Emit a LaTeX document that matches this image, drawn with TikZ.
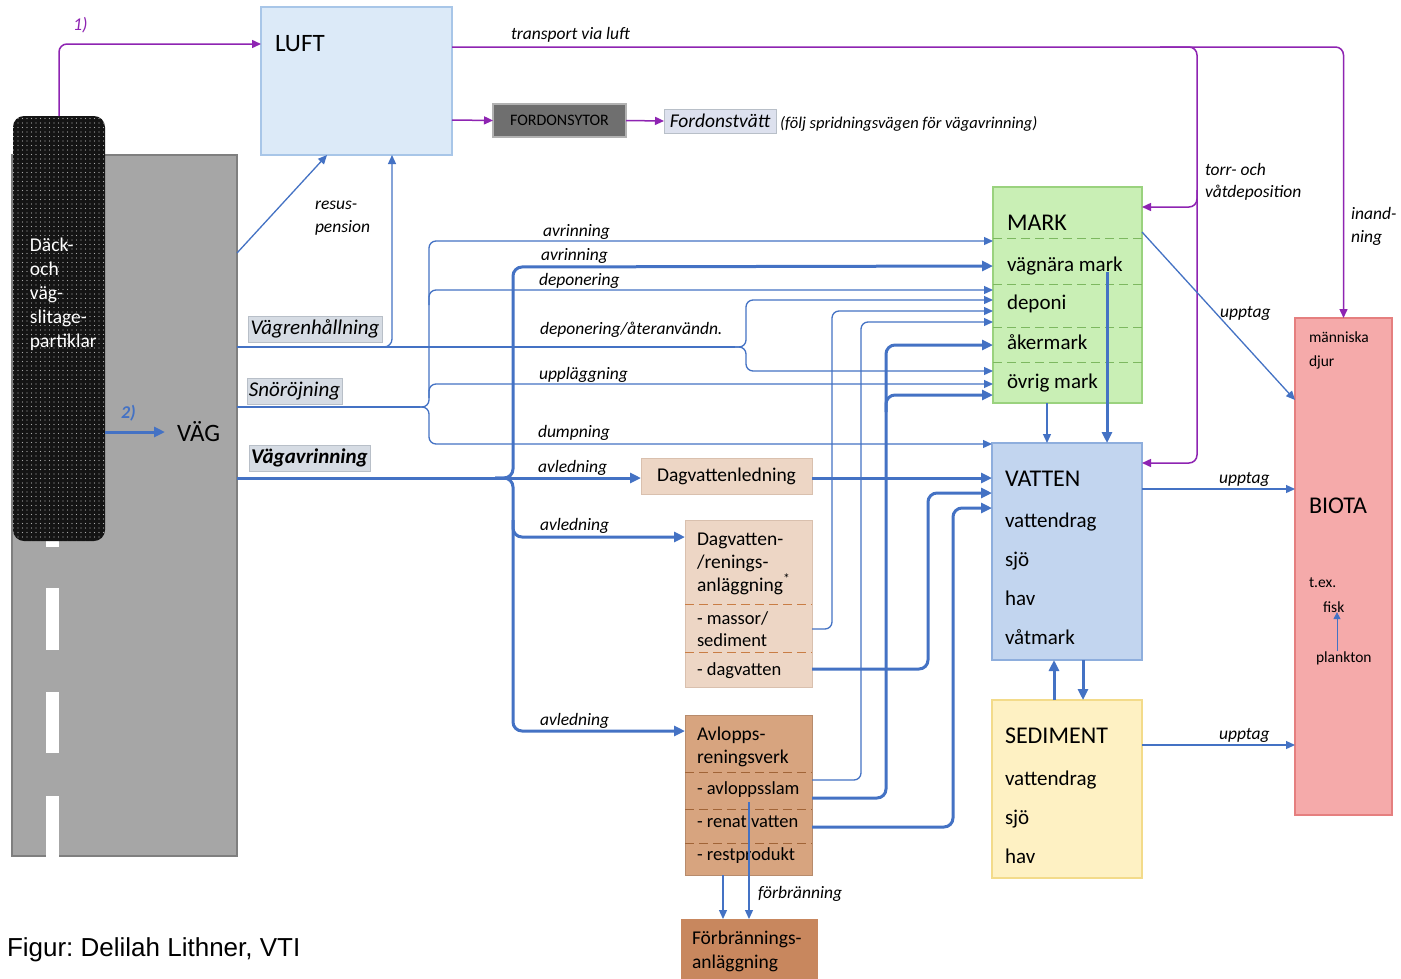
\documentclass[tikz,border=0pt]{standalone}
\usepackage{fontspec}
\setmainfont{Carlito}
\newfontfamily\arialfont{Liberation Sans}
\usetikzlibrary{arrows.meta,patterns.meta,calc}
\frenchspacing
\definecolor{bl}{HTML}{4472C4}
\definecolor{purp}{HTML}{8E24B2}
\definecolor{roadgray}{HTML}{A6A6A6}
\definecolor{roadedge}{HTML}{7F7F7F}
\definecolor{luftfill}{HTML}{DCEAF8}
\definecolor{luftedge}{HTML}{A8C6E8}
\definecolor{markfill}{HTML}{C9EFB5}
\definecolor{markedge}{HTML}{9AD27E}
\definecolor{markdash}{HTML}{7DB860}
\definecolor{vatfill}{HTML}{C2D5EF}
\definecolor{vatedge}{HTML}{8EAEDD}
\definecolor{sedfill}{HTML}{FEF1C3}
\definecolor{sededge}{HTML}{F3DB8A}
\definecolor{biofill}{HTML}{F5AAAA}
\definecolor{bioedge}{HTML}{E57F7F}
\definecolor{dagfill}{HTML}{EDD6C5}
\definecolor{dagedge}{HTML}{D9C0AE}
\definecolor{avlfill}{HTML}{D7A47F}
\definecolor{forbfill}{HTML}{C8875E}
\definecolor{orgdash}{HTML}{C97D45}
\definecolor{fordfill}{HTML}{6F6F6F}
\definecolor{fordtvfill}{HTML}{DDE1EE}
\definecolor{lblfill}{HTML}{D6DCE4}
\definecolor{lbledge}{HTML}{B8BFC8}
\begin{document}
\begin{tikzpicture}[x=1pt,y=-1pt,
  tl/.style={draw=bl, line width=1.3pt},
  tarrow/.style={tl, -{Triangle[length=9pt,width=8pt]}},
  kl/.style={draw=bl, line width=3pt},
  karrow/.style={kl, -{Triangle[length=11pt,width=10pt]}},
  pl/.style={draw=purp, line width=1.5pt},
  parrow/.style={pl, -{Triangle[length=9pt,width=8pt]}},
  box/.style={anchor=north west, inner sep=0pt, outer sep=0pt, line width=1.2pt},
  tx/.style={anchor=base west, inner sep=0pt, outer sep=0pt},
  big/.style={tx, font=\fontsize{24}{28}\selectfont},
  item/.style={tx, font=\fontsize{21}{25}\selectfont},
  brown/.style={tx, font=\fontsize{19.5}{23}\selectfont},
  lab/.style={tx, font=\fontsize{17.5}{21}\selectfont\itshape},
  small/.style={tx, font=\fontsize{15.5}{18}\selectfont},
  lbl/.style={anchor=north west, inner sep=0pt, outer sep=0pt, fill=lblfill, draw=lbledge, line width=0.8pt, font=\fontsize{21}{25}\selectfont\itshape},
  mdash/.style={draw=markdash, line width=1pt, dash pattern=on 9pt off 5pt},
  odash/.style={draw=orgdash, line width=1pt, dash pattern=on 9pt off 5pt}
]
\useasboundingbox (0,0) rectangle (1401,978);
\fill[white] (0,0) rectangle (1401,978);

% road
\node[box, fill=roadgray, draw=roadedge, line width=2pt, minimum width=225pt, minimum height=701pt] (road) at (12,155) {};
\foreach \ya/\yb in {540/547, 588/650, 692/753, 796/857}
  \fill[white] (46,\ya) rectangle (59,\yb);

% tire
\node[box, fill=black!92, rounded corners=11pt, minimum width=92pt, minimum height=425pt] (tire) at (13,116) {};
\fill[pattern={Dots[distance=4.5pt,radius=0.65pt]}, pattern color=gray!65, rounded corners=11pt] (tire.north west) rectangle (tire.south east);
\node[tx, text=white, font=\fontsize{19.5}{23}\selectfont] (t1) at (30,251) {Däck-};
\node[tx, text=white, font=\fontsize{19.5}{23}\selectfont] (t2) at (30,275) {och};
\node[tx, text=white, font=\fontsize{19.5}{23}\selectfont] (t3) at (30,299) {väg-};
\node[tx, text=white, font=\fontsize{19.5}{23}\selectfont] (t4) at (30,323) {slitage-};
\node[tx, text=white, font=\fontsize{19.5}{23}\selectfont] (t5) at (30,347) {partiklar};

% VÄG
\node[anchor=west, inner sep=0pt, outer xsep=12pt, font=\fontsize{25}{29}\selectfont] (vag) at (165,432) {VÄG};
\node[tx, text=bl, font=\fontsize{18}{21}\selectfont\bfseries\itshape] (n2) at (121,418) {2)};
\draw[karrow] (tire.east |- 0,432) -- (vag.west);

% LUFT
\node[box, fill=luftfill, draw=luftedge, minimum width=191pt, minimum height=148pt] (luft) at (261,7) {};
\node[tx, font=\fontsize{25}{29}\selectfont] (tluft) at (275,51) {LUFT};
\node[tx, text=purp, font=\fontsize{18}{21}\selectfont\itshape] (n1) at (73,30) {1)};
\draw[parrow, rounded corners=8pt] (tire.north) |- (luft.west |- 0,44);

% Fordonsytor
\node[box, fill=fordfill, draw=gray!60, minimum width=133pt, minimum height=33pt, font=\fontsize{16}{19}\selectfont] (ford) at (493,104) {FORDONSYTOR};
\node[box, fill=fordtvfill, draw=lbledge, line width=0.8pt, minimum width=112pt, minimum height=24pt, font=\fontsize{19.5}{22}\selectfont\itshape] (fordtv) at (664,109) {Fordonstvätt};
\node[tx, font=\fontsize{16.5}{19}\selectfont\itshape] (follj) at (780,128) {(följ spridningsvägen för vägavrinning)};
\draw[parrow] (luft.east |- 0,120) -- (ford.west);
\draw[parrow] (ford.east) -- (fordtv.west);

% MARK
\node[box, fill=markfill, draw=markedge, minimum width=149pt, minimum height=216pt] (mark) at (993,187) {};
\foreach \yy in {238,284,327,362}
  \draw[mdash] (mark.west |- 0,\yy) -- (mark.east |- 0,\yy);
\node[big] (tmark) at (1007,230) {MARK};
\node[item] (tm1) at (1007,271) {vägnära mark};
\node[item] (tm2) at (1007,309) {deponi};
\node[item] (tm3) at (1007,349) {åkermark};
\node[item] (tm4) at (1007,388) {övrig mark};

% VATTEN
\node[box, fill=vatfill, draw=vatedge, minimum width=150pt, minimum height=217pt] (vatten) at (992,443) {};
\node[big] (tvat) at (1005,486) {VATTEN};
\node[item] (tv1) at (1005,527) {vattendrag};
\node[item] (tv2) at (1005,566) {sjö};
\node[item] (tv3) at (1005,605) {hav};
\node[item] (tv4) at (1005,644) {våtmark};

% SEDIMENT
\node[box, fill=sedfill, draw=sededge, minimum width=150pt, minimum height=178pt] (sed) at (992,700) {};
\node[big] (tsed) at (1005,743) {SEDIMENT};
\node[item] (ts1) at (1005,785) {vattendrag};
\node[item] (ts2) at (1005,824) {sjö};
\node[item] (ts3) at (1005,863) {hav};

% BIOTA
\node[box, fill=biofill, draw=bioedge, line width=1.6pt, minimum width=97pt, minimum height=497pt] (biota) at (1295,318) {};
\node[small] (tb1) at (1309,342) {människa};
\node[small] (tb2) at (1309,366) {djur};
\node[big] (tbio) at (1309,513) {BIOTA};
\node[small] (tb3) at (1309,587) {t.ex.};
\node[small] (fisk) at (1323,612) {fisk};
\node[small] (plank) at (1316,662) {plankton};
\draw[draw=bl, line width=1pt, -{Triangle[length=7pt,width=7pt]}] (plank.north -| 1337,0) -- (fisk.south -| 1337,0);

% brown boxes
\node[box, fill=dagfill, draw=dagedge, line width=0.8pt, minimum width=171pt, minimum height=36pt, font=\fontsize{19.5}{23}\selectfont] (dagl) at (641,458) {Dagvattenledning};
\node[box, fill=dagfill, draw=dagedge, line width=0.8pt, minimum width=127pt, minimum height=167pt] (dagr) at (685,520) {};
\node[brown] (d1) at (697,545) {Dagvatten-};
\node[brown] (d2) at (697,568) {/renings-};
\node[brown] (d3) at (697,591) {anläggning\textsuperscript{*}};
\draw[odash] (dagr.west |- 0,604) -- (dagr.east |- 0,604);
\node[brown, font=\fontsize{18.5}{22}\selectfont] (d4) at (697,624) {- massor/};
\node[brown, font=\fontsize{18.5}{22}\selectfont] (d5) at (697,646) {sediment};
\draw[odash] (dagr.west |- 0,652) -- (dagr.east |- 0,652);
\node[brown, font=\fontsize{18.5}{22}\selectfont] (d6) at (697,675) {- dagvatten};

\node[box, fill=avlfill, draw=avlfill!85!black, line width=0.6pt, minimum width=127pt, minimum height=160pt] (avl) at (685,715) {};
\node[brown] (a1) at (697,740) {Avlopps-};
\node[brown] (a2) at (697,763) {reningsverk};
\draw[odash, draw=orgdash!80!black] (avl.west |- 0,772) -- (avl.east |- 0,772);
\node[brown, font=\fontsize{18.5}{22}\selectfont] (a3) at (697,794) {- avloppsslam};
\draw[odash, draw=orgdash!80!black] (avl.west |- 0,809) -- (avl.east |- 0,809);
\node[brown, font=\fontsize{18.5}{22}\selectfont] (a4) at (697,827) {- renat vatten};
\draw[odash, draw=orgdash!80!black] (avl.west |- 0,843) -- (avl.east |- 0,843);
\node[brown, font=\fontsize{18.5}{22}\selectfont] (a5) at (697,860) {- restprodukt};

\node[box, fill=forbfill, minimum width=137pt, minimum height=62pt] (forb) at (681,919) {};
\node[brown] (f1) at (692,944) {Förbrännings-};
\node[brown] (f2) at (692,968) {anläggning};

% left labels
\node[lbl, minimum width=134pt, minimum height=26pt] (vrh) at (248,316) {Vägrenhållning};
\node[lbl, minimum width=95pt, minimum height=26pt] (snor) at (247,378) {Snöröjning};
\node[lbl, minimum width=121pt, minimum height=26pt, font=\fontsize{21}{25}\selectfont\bfseries\itshape] (vavr) at (249,445) {Vägavrinning};

% purple air transport
\draw[parrow, rounded corners=8pt] (luft.east |- 0,47) -| (biota.north);
\draw[parrow, rounded corners=8pt] (1160,47) -| (1197,207) -- (mark.east |- 0,207);
\draw[parrow, rounded corners=8pt] (1197,190) |- (vatten.east |- 0,463);
\node[lab] (ltr) at (511,39) {transport via luft};
\node[lab] (ltorr1) at (1205,175) {torr- och};
\node[lab] (ltorr2) at (1205,197) {våtdeposition};
\node[lab] (lin1) at (1351,219) {inand-};
\node[lab] (lin2) at (1351,242) {ning};

% resuspension
\draw[tarrow] (road.east |- 0,253) -- (luft.south -| 327,0);
\node[lab] (lres1) at (315,209) {resus-};
\node[lab] (lres2) at (315,232) {pension};

% Vägrenhållning
\draw[tarrow, rounded corners=8pt] (road.east |- 0,347) -| (luft.south -| 392,0);
\draw[tl] (road.east |- 0,347) -- (735,347);
\draw[tarrow, rounded corners=7pt] (725,347) -| (746,300) -- (mark.west |- 0,300);
\draw[tarrow, rounded corners=7pt] (725,347) -| (746,371) -- (mark.west |- 0,371);
\node[lab] (ldep2) at (540,334) {deponering/återanvändn.};

% Snöröjning
\draw[tl] (road.east |- 0,407) -- (420,407);
\draw[tarrow, rounded corners=7pt] (412,407) -| (429,241) -- (mark.west |- 0,241);
\draw[tarrow, rounded corners=7pt] (429,305) |- (mark.west |- 0,290);
\draw[tarrow, rounded corners=7pt] (429,398) |- (mark.west |- 0,384);
\draw[tarrow, rounded corners=7pt] (412,407) -| (429,444) -- (vatten.west |- 0,444);
\node[lab] (lavr1) at (543,236) {avrinning};
\node[lab] (ldep1) at (539,285) {deponering};
\node[lab] (lupp) at (539,379) {uppläggning};
\node[lab] (ldump) at (538,437) {dumpning};

% Vägavrinning
\draw[karrow] (road.east |- 0,478) -- (dagl.west |- 0,478);
\draw[karrow, rounded corners=9pt] (495,478) -| (513,267) -- (mark.west |- 0,266);
\draw[karrow, rounded corners=9pt] (495,478) -| (513,537) -- (dagr.west |- 0,537);
\draw[karrow, rounded corners=9pt] (513,520) |- (avl.west |- 0,731);
\node[lab] (lavr2) at (541,260) {avrinning};
\node[lab] (lavl1) at (538,472) {avledning};
\node[lab] (lavl2) at (540,530) {avledning};
\node[lab] (lavl3) at (540,725) {avledning};

% from treatment boxes
\draw[karrow] (dagl.east |- 0,478) -- (vatten.west |- 0,478);
\draw[tarrow, rounded corners=7pt] (dagr.east |- 0,629) -| (832,311) -- (mark.west |- 0,311);
\draw[karrow, rounded corners=9pt] (dagr.east |- 0,669) -| (928,493) -- (vatten.west |- 0,493);
\draw[tarrow, rounded corners=7pt] (avl.east |- 0,780) -| (861,322) -- (mark.west |- 0,322);
\draw[karrow, rounded corners=9pt] (avl.east |- 0,798) -| (886,345) -- (mark.west |- 0,345);
\draw[karrow, rounded corners=9pt] (886,412) |- (mark.west |- 0,395);
\draw[karrow, rounded corners=9pt] (avl.east |- 0,827) -| (953,508) -- (vatten.west |- 0,508);
\draw[tarrow] (avl.south -| 723,0) -- (forb.north -| 723,0);
\draw[tarrow] (749,802) -- (forb.north -| 749,0);
\node[lab] (lforb) at (758,898) {förbränning};

% mark / vatten / sediment
\draw[tarrow] (mark.south -| 1047,0) -- (vatten.north -| 1047,0);
\draw[karrow] (1107,272) -- (vatten.north -| 1107,0);
\draw[karrow] (sed.north -| 1054,0) -- (vatten.south -| 1054,0);
\draw[karrow] (vatten.south -| 1083,0) -- (sed.north -| 1083,0);

% uptake
\draw[tarrow] (mark.east |- 0,232) -- (biota.west |- 0,400);
\draw[tarrow] (vatten.east |- 0,489) -- (biota.west |- 0,489);
\draw[tarrow] (sed.east |- 0,745) -- (biota.west |- 0,745);
\node[lab] (lup1) at (1220,317) {upptag};
\node[lab] (lup2) at (1219,483) {upptag};
\node[lab] (lup3) at (1219,739) {upptag};

% caption
\node[tx, font=\arialfont\fontsize{26}{30}\selectfont] (cap) at (7,956) {Figur: Delilah Lithner, VTI};
\end{tikzpicture}
\end{document}
